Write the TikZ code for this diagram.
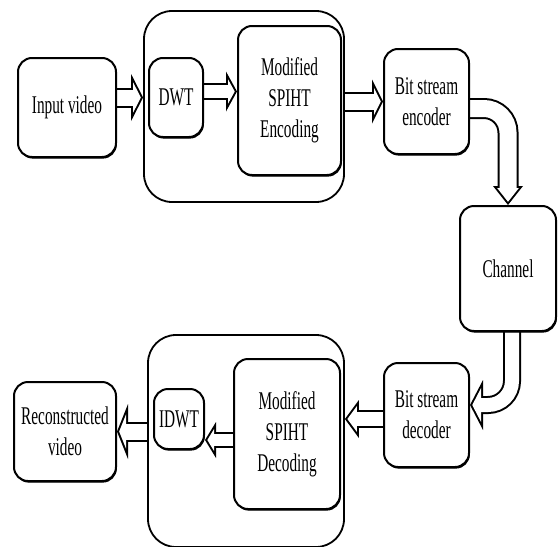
\documentclass[tikz,border=0pt]{standalone}
\usepackage{fontspec}
\setmainfont{Liberation Serif}[FakeStretch=0.6]
\usetikzlibrary{arrows.meta,shadows,backgrounds,calc}

% hollow block arrows: black outline, white inside
\newcommand{\barrline}{2}
\newcommand{\blockarr}[4]{% shaft, head length, head width, path
  \pgfmathsetmacro{\barrang}{atan((#3/2)/#2)}%
  \pgfmathsetmacro{\barrin}{#1-2*\barrline}%
  \pgfmathsetmacro{\barrtip}{\barrline/sin(\barrang)}%
  \pgfmathsetmacro{\barrlen}{#2-\barrline-\barrtip}%
  \pgfmathsetmacro{\barrwid}{#3*(#2-\barrline)/#2-2*\barrline/cos(\barrang)}%
  \draw[line width=#1pt, -{Triangle[length=#2pt, width=#3pt, line width=0pt]}] #4;
  \draw[white, line width=\barrin pt, shorten >=\barrtip pt,
    -{Triangle[length=\barrlen pt, width=\barrwid pt, line width=0pt]}] #4;
}

\begin{document}
\begin{tikzpicture}[
  x=1pt, y=-1pt,
  blk/.style={draw, line width=2pt, rounded corners=14pt, fill=white, align=center,
    font=\fontsize{25.5}{31}\selectfont, inner sep=0pt,
    drop shadow={shadow xshift=0.8pt, shadow yshift=-1.6pt, fill=black, opacity=1}},
  grp/.style={draw, line width=1.8pt, rounded corners=28pt, inner sep=0pt}
]
\useasboundingbox (0,0) rectangle (559,546);

% encoder side
\node[grp, minimum width=200pt, minimum height=191pt] (enc) at (244,106.5) {};
\node[blk, minimum width=98pt, minimum height=99pt] (invid) at (67,107.5) {Input video};
\node[blk, minimum width=54pt, minimum height=79pt] (dwt) at (176,97.5) {DWT};
\node[blk, minimum width=103pt, minimum height=149pt] (spihte) at (289.5,100.5) {Modified\\SPIHT\\Encoding};
\node[blk, minimum width=85pt, minimum height=105pt] (bse) at (426.5,101.5) {Bit stream\\encoder};
\node[blk, minimum width=96pt, minimum height=125pt] (chan) at (508,268.5) {Channel};

% decoder side
\node[grp, minimum width=196pt, minimum height=212pt] (dec) at (246,441) {};
\node[blk, minimum width=85pt, minimum height=104pt] (bsd) at (426.5,415) {Bit stream\\decoder};
\node[blk, minimum width=106pt, minimum height=150pt] (spihtd) at (287,434) {Modified\\SPIHT\\Decoding};
\node[blk, minimum width=50pt, minimum height=60pt] (idwt) at (179,419) {IDWT};
\node[blk, minimum width=102pt, minimum height=99pt] (recvid) at (65,431.5) {Reconstructed\\video};

% arrows
\begin{scope}[on background layer]
\blockarr{20}{12}{47}{(invid.east |- dwt) -- (enc.west |- dwt)}
\blockarr{17}{11}{40}{([yshift=6pt]dwt.east) -- ([yshift=6pt]dwt.east -| spihte.west)}
\blockarr{20}{11}{44}{(enc.east |- bse) -- (bse.west)}
\blockarr{21}{19}{30}{([yshift=-7pt]bse.east) [rounded corners=24pt] -| (chan.north)}
\blockarr{18}{13}{50}{([xshift=4pt]chan.south) [rounded corners=24pt] |- ([yshift=10pt]bsd.east)}
\blockarr{18}{14}{38}{([yshift=-4pt]bsd.west) -- ([yshift=-4pt]bsd.west -| dec.east)}
\blockarr{16}{11}{36}{([yshift=-6pt]spihtd.west) -- ([yshift=-6pt]spihtd.west -| idwt.east)}
\blockarr{20}{11}{55}{(dec.west |- recvid) -- (recvid.east)}
\end{scope}

\end{tikzpicture}
\end{document}
